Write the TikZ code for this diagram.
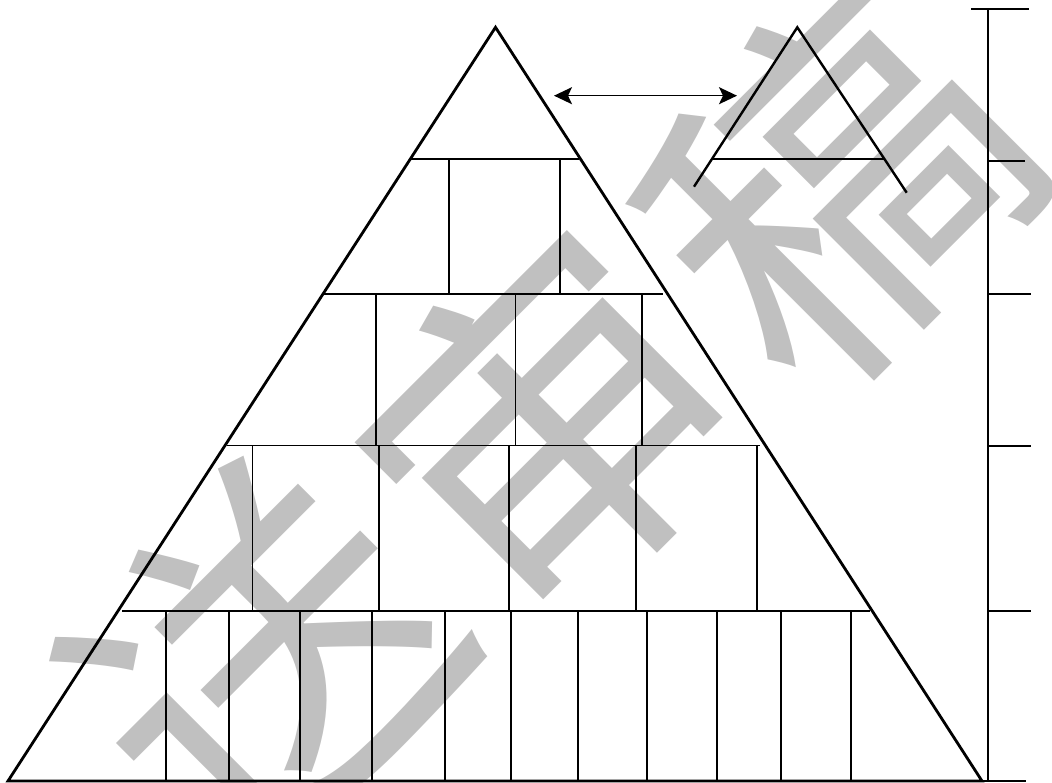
\documentclass[tikz,border=0pt]{standalone}
\usepackage{fontspec}
\newfontfamily\cjkwm{Noto Sans CJK SC}
\usetikzlibrary{arrows.meta}
\definecolor{wmgrey}{RGB}{192,192,192}
\begin{document}
\begin{tikzpicture}[x=1pt,y=-1pt,
  tri/.style={line width=2.8pt,line join=miter},
  gridline/.style={line width=1.9pt},
  axisline/.style={line width=1.9pt},
  twohead/.style={line width=1.6pt,{Stealth[length=18pt,width=17pt,inset=4pt]}-{Stealth[length=18pt,width=17pt,inset=4pt]}},
  wmark/.style={text=wmgrey,inner sep=0pt,rotate=45,font=\cjkwm\fontsize{360}{360}\selectfont}]
\useasboundingbox (0,0) rectangle (1052,783);
% watermark
\node[wmark] (w1) at (262,660) {送};
\node[wmark] (w2) at (550,425) {审};
\node[wmark] (w3) at (835,185) {稿};
% big triangle
\coordinate (A) at (495.5,27.3);
\coordinate (L) at (8,781);
\coordinate (R) at (982,781);
\coordinate (Rend) at (1026,781);
\draw[tri] (L) -- (A) -- (R) -- cycle;
\draw[gridline] (R) -- (Rend);
% horizontal layers
\draw[gridline] (411,159) -- (579,159);
\draw[gridline] (324,294) -- (663,294);
\draw[gridline] (227,445.5) -- (760,445.5);
\draw[gridline] (122,610.7) -- (870,610.7);
% vertical dividers
\foreach \x in {449,560} \draw[gridline] (\x,159) -- (\x,294);
\foreach \x in {376,515.5,642} \draw[gridline] (\x,294) -- (\x,445.5);
\foreach \x in {252.5,379.3,509,636,756.7} \draw[gridline] (\x,445.5) -- (\x,610.7);
\foreach \x in {166,229.3,300,371.7,445,511,578,647,717,781,851} \draw[gridline] (\x,610.7) -- (\x,781);
% small triangle
\coordinate (a) at (797.3,27.3);
\coordinate (l) at (694,186.7);
\coordinate (r) at (906.7,192.7);
\draw[tri,line width=2.4pt] (l) -- (a) -- (r);
\draw[gridline] (712.2,158.7) -- (884.2,158.7);
% double arrow
\coordinate (p) at (554,95.7);
\coordinate (q) at (737,95.7);
\draw[twohead] (p) -- (q);
% right axis
\coordinate (top) at (988,9);
\coordinate (bot) at (988,781);
\draw[axisline] (top) -- (bot);
\draw[axisline] (971,9) -- (1029,9);
\draw[axisline] (988,160.7) -- (1025,160.7);
\draw[axisline] (988,294) -- (1031,294);
\draw[axisline] (988,445.7) -- (1031,445.7);
\draw[axisline] (988,611) -- (1031,611);
\end{tikzpicture}
\end{document}
